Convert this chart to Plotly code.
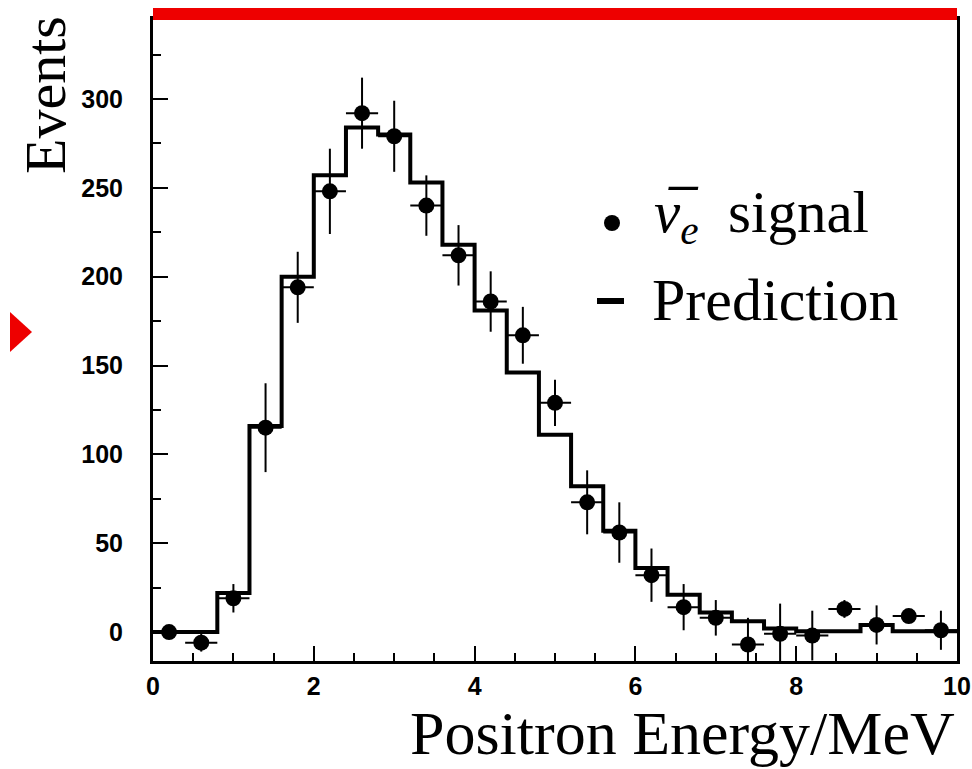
import plotly.graph_objects as go

# Positron energy spectrum: measured signal (points) vs. prediction (histogram)
bin_centers = [0.2, 0.6, 1.0, 1.4, 1.8, 2.2, 2.6, 3.0, 3.4, 3.8, 4.2, 4.6, 5.0,
               5.4, 5.8, 6.2, 6.6, 7.0, 7.4, 7.8, 8.2, 8.6, 9.0, 9.4, 9.8]
bin_half_width = 0.2
signal_events = [0, -6, 19, 115, 194, 248, 292, 279, 240, 212, 186, 167, 129,
                 73, 56, 32, 14, 8, -7, -1, -2, 13, 4, 9, 1]
signal_errors = [4, 5, 8, 25, 20, 24, 20, 20, 17, 17, 17, 16, 13,
                 18, 17, 15, 13, 10, 15, 17, 14, 5, 11, 4, 11]
prediction = [0, 0, 22, 116, 200, 257, 284, 280, 253, 218, 181, 146, 111,
              82, 57, 36, 21, 11, 6, 2, 0.5, 0.5, 4, 0.5, 0.5]
x_tick_vals = [0, 2, 4, 6, 8, 10]
y_tick_vals = [0, 50, 100, 150, 200, 250, 300]

# Histogram edges for the step outline
edges = [c - bin_half_width for c in bin_centers] + [bin_centers[-1] + bin_half_width]
step_y = prediction + [prediction[-1]]

# Canvas geometry
W, H = 972, 769
ML, MR, MT, MB = 153, 15, 19, 108
PW, PH = W - ML - MR, H - MT - MB


def px_x(p):
    return (p - ML) / PW


def px_y(p):
    return (H - MB - p) / PH


SERIF = "Liberation Serif, Times New Roman, serif"
SANS = "Liberation Sans, Arial, sans-serif"

fig = go.Figure()

fig.add_trace(go.Scatter(
    x=edges, y=step_y, mode="lines", line=dict(color="black", width=4, shape="hv"),
    showlegend=False, hoverinfo="skip"))

fig.add_trace(go.Scatter(
    x=bin_centers, y=signal_events, mode="markers",
    marker=dict(color="black", size=16),
    error_y=dict(type="data", array=signal_errors, color="black", thickness=2, width=0),
    error_x=dict(type="constant", value=bin_half_width, color="black", thickness=2, width=0),
    showlegend=False))

axis_common = dict(
    showline=True, linecolor="black", linewidth=3, mirror=True,
    ticks="inside", tickcolor="black", tickwidth=2, ticklen=15,
    showgrid=False, zeroline=False, automargin=False,
    tickfont=dict(family=SANS, size=25, color="black", weight="bold"),
)

fig.update_xaxes(range=[0, 10], tickvals=x_tick_vals, ticklabelstandoff=1,
                 minor=dict(dtick=0.5, ticks="inside", ticklen=8, tickwidth=2, tickcolor="black"),
                 **axis_common)
fig.update_yaxes(range=[-16.3, 345], tickvals=y_tick_vals, ticklabelstandoff=22,
                 minor=dict(dtick=25, ticks="inside", ticklen=8, tickwidth=2, tickcolor="black"),
                 **axis_common)

shapes = [
    # red band along the top frame
    dict(type="rect", xref="paper", yref="paper", x0=0, x1=1,
         y0=px_y(20), y1=px_y(8), fillcolor="#ee0000", line=dict(width=0), layer="above"),
    # red pointer on the left margin
    dict(type="path", xref="paper", yref="paper",
         path=f"M {px_x(10)} {px_y(312)} L {px_x(32)} {px_y(332)} L {px_x(10)} {px_y(352)} Z",
         fillcolor="#ee0000", line=dict(width=0)),
    # legend symbols
    dict(type="circle", xref="paper", yref="paper",
         x0=px_x(604), x1=px_x(620), y0=px_y(231), y1=px_y(215),
         fillcolor="black", line=dict(width=0)),
    dict(type="rect", xref="paper", yref="paper",
         x0=px_x(597), x1=px_x(624), y0=px_y(304), y1=px_y(298),
         fillcolor="black", line=dict(width=0)),
]

annotations = [
    dict(text="Events", xref="paper", yref="paper", x=px_x(45), y=px_y(95),
         textangle=-90, showarrow=False, xanchor="center", yanchor="middle",
         font=dict(family=SERIF, size=58, color="black")),
    dict(text="Positron Energy/MeV", xref="paper", yref="paper", x=px_x(957), y=px_y(733),
         showarrow=False, xanchor="right", yanchor="middle",
         font=dict(family=SERIF, size=62, color="black")),
    dict(text="<i>ν\u0305</i><sub><i>e</i></sub>&nbsp; signal", xref="paper", yref="paper",
         x=px_x(652), y=px_y(216), showarrow=False, xanchor="left", yanchor="middle",
         font=dict(family=SERIF, size=59, color="black")),
    dict(text="Prediction", xref="paper", yref="paper",
         x=px_x(650), y=px_y(300), showarrow=False, xanchor="left", yanchor="middle",
         font=dict(family=SERIF, size=60, color="black")),
]

fig.update_layout(
    width=W, height=H, margin=dict(l=ML, r=MR, t=MT, b=MB),
    paper_bgcolor="white", plot_bgcolor="white",
    shapes=shapes, annotations=annotations, showlegend=False,
)

fig.write_html("out.html")
